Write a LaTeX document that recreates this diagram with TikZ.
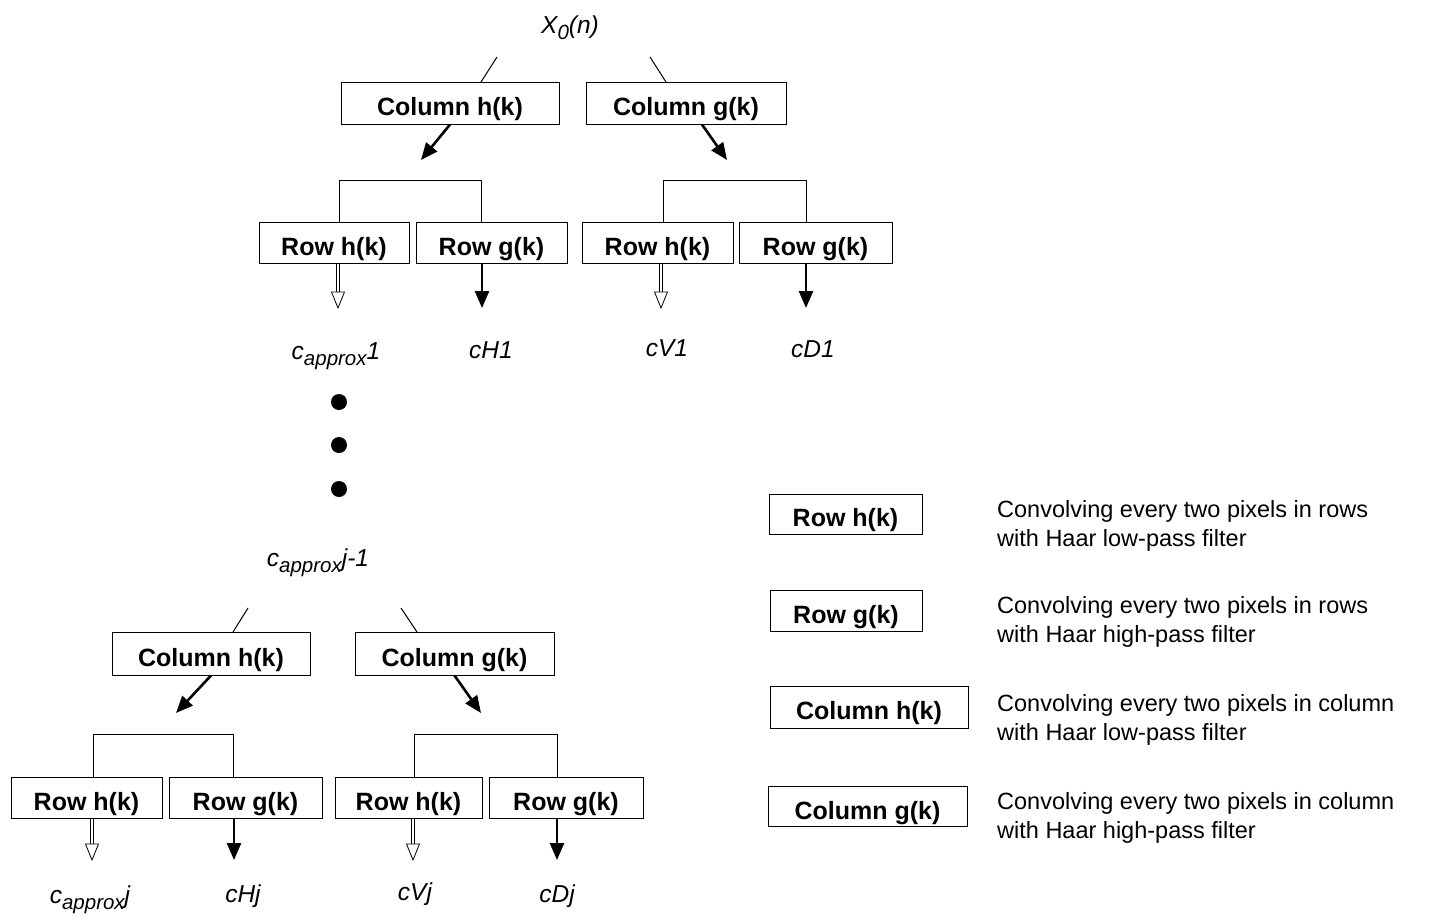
\documentclass[tikz,border=0pt]{standalone}
\usepackage{fontspec}
\setmainfont{Liberation Sans}
\usetikzlibrary{arrows.meta,calc}
\newcommand\hollowarr[2]{%
  \draw[line width=0.7pt, double distance=2.2pt] (#1) -- ($(#2)+(0,-15)$);
  \draw[line width=0.8pt, fill=white] ($(#2)+(-6.5,-16)$) -- ($(#2)+(6.5,-16)$) -- (#2) -- cycle;}
\newcommand\subx[1]{\raisebox{-6pt}{\fontsize{20.5}{24}\selectfont #1}}
\begin{document}
\begin{tikzpicture}[x=1pt,y=-1pt,
  box/.style={draw, line width=1pt, font=\fontsize{25}{30}\selectfont\bfseries, inner sep=0pt, anchor=center, text height=25pt, text depth=0pt},
  lbl/.style={font=\fontsize{24.5}{29}\selectfont\itshape, inner sep=0pt, anchor=base},
  desc/.style={font=\fontsize{23.5}{29.5}\selectfont, align=left, anchor=west, inner sep=0pt},
  fillarrow/.style={line width=2.6pt, -{Triangle[length=17pt,width=14pt]}},
  thinline/.style={line width=1pt},
  dot/.style={circle, fill=black, inner sep=0pt, minimum size=16pt}]
\useasboundingbox (0,0) rectangle (1435,922);

% ---------- top level ----------
\node[lbl] (x0) at (570,33) {X\subx{0}(n)};
\coordinate (a1) at (497,57); \coordinate (a2) at (481,82);
\coordinate (b1) at (650,57); \coordinate (b2) at (666,82);
\draw[thinline] (a1) -- (a2);
\draw[thinline] (b1) -- (b2);

\node[box, minimum width=218pt, minimum height=42pt] (ch1) at (450,103) {Column h(k)};
\node[box, minimum width=200pt, minimum height=42pt] (cg1) at (686,103) {Column g(k)};

\coordinate (t1) at (421,160);
\coordinate (t2) at (727,160);
\draw[fillarrow] (ch1.south) -- (t1);
\draw[fillarrow] ([xshift=16pt]cg1.south) -- (t2);

\node[box, minimum width=150pt, minimum height=41pt] (rh1) at (334,242.5) {Row h(k)};
\node[box, minimum width=151pt, minimum height=41pt] (rg1) at (491.5,242.5) {Row g(k)};
\node[box, minimum width=151pt, minimum height=41pt] (rh2) at (657.5,242.5) {Row h(k)};
\node[box, minimum width=153pt, minimum height=41pt] (rg2) at (815.5,242.5) {Row g(k)};

\draw[thinline] ([xshift=5pt]rh1.north) -- ++(0,-41) -| ([xshift=-10pt]rg1.north);
\draw[thinline] ([xshift=5.5pt]rh2.north) -- ++(0,-41) -| ([xshift=-9.5pt]rg2.north);

\coordinate (e1) at (338,308);
\coordinate (e2) at (482,308);
\coordinate (e3) at (661,308);
\coordinate (e4) at (806,308);
\hollowarr{[xshift=4pt]rh1.south}{e1}
\draw[fillarrow] (rg1.south -| e2) -- (e2);
\hollowarr{[xshift=3.5pt]rh2.south}{e3}
\draw[fillarrow] (rg2.south -| e4) -- (e4);

\node[lbl] (ca1) at (336,359) {c\subx{approx}1};
\node[lbl] (ch1l) at (491,358) {cH1};
\node[lbl] (cv1l) at (667,356) {cV1};
\node[lbl] (cd1l) at (813,357) {cD1};

\node[dot] (d1) at (339,402) {};
\node[dot] (d2) at (339,445) {};
\node[dot] (d3) at (339,489) {};

% ---------- level j ----------
\node[lbl] (caj1) at (318,566) {c\subx{approx}j-1};
\coordinate (a3) at (248,608); \coordinate (a4) at (233,632);
\coordinate (b3) at (401,608); \coordinate (b4) at (417,632);
\draw[thinline] (a3) -- (a4);
\draw[thinline] (b3) -- (b4);

\node[box, minimum width=198pt, minimum height=43pt] (chj) at (211,653.5) {Column h(k)};
\node[box, minimum width=199pt, minimum height=43pt] (cgj) at (454.5,653.5) {Column g(k)};

\coordinate (t3) at (176,713);
\coordinate (t4) at (481,713);
\draw[fillarrow] (chj.south) -- (t3);
\draw[fillarrow] (cgj.south) -- (t4);

\node[box, minimum width=151pt, minimum height=41pt] (rh3) at (86.5,797.5) {Row h(k)};
\node[box, minimum width=153pt, minimum height=41pt] (rg3) at (245.5,797.5) {Row g(k)};
\node[box, minimum width=147pt, minimum height=41pt] (rh4) at (408.5,797.5) {Row h(k)};
\node[box, minimum width=154pt, minimum height=41pt] (rg4) at (566,797.5) {Row g(k)};

\draw[thinline] ([xshift=6.5pt]rh3.north) -- ++(0,-42) -| ([xshift=-12.5pt]rg3.north);
\draw[thinline] ([xshift=5.5pt]rh4.north) -- ++(0,-42) -| ([xshift=-9pt]rg4.north);

\coordinate (e5) at (92,860);
\coordinate (e6) at (234,860);
\coordinate (e7) at (413,860);
\coordinate (e8) at (557,860);
\hollowarr{[xshift=5.5pt]rh3.south}{e5}
\draw[fillarrow] (rg3.south -| e6) -- (e6);
\hollowarr{[xshift=4.5pt]rh4.south}{e7}
\draw[fillarrow] (rg4.south -| e8) -- (e8);

\node[lbl] (caj) at (90,903) {c\subx{approx}j};
\node[lbl] (chjl) at (243,902) {cHj};
\node[lbl] (cvjl) at (415,900) {cVj};
\node[lbl] (cdjl) at (557,902) {cDj};

% ---------- legend ----------
\node[box, minimum width=153pt, minimum height=40pt] (k1) at (845.5,514) {Row h(k)};
\node[box, minimum width=152pt, minimum height=41pt] (k2) at (846,610.5) {Row g(k)};
\node[box, minimum width=198pt, minimum height=42pt] (k3) at (869,707) {Column h(k)};
\node[box, minimum width=199pt, minimum height=40pt] (k4) at (867.5,806.5) {Column g(k)};

\node[desc] (t1d) at (997,526) {Convolving every two pixels in rows\\with Haar low-pass filter};
\node[desc] (t2d) at (997,622) {Convolving every two pixels in rows\\with Haar high-pass filter};
\node[desc] (t3d) at (997,720) {Convolving every two pixels in column\\with Haar low-pass filter};
\node[desc] (t4d) at (997,818) {Convolving every two pixels in column\\with Haar high-pass filter};
\end{tikzpicture}
\end{document}
